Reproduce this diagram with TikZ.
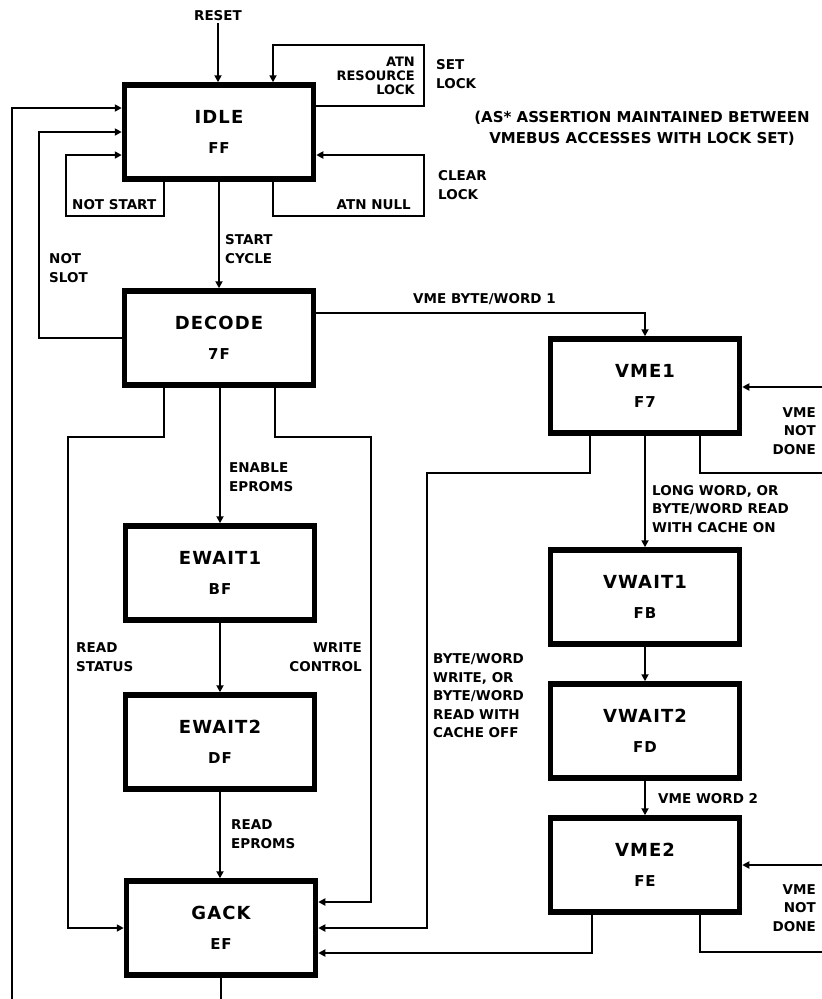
\documentclass[tikz,border=0pt]{standalone}
\usepackage{fontspec}
\setmainfont{DejaVu Sans}
\usetikzlibrary{arrows.meta}
\newcommand\ttlfont{\fontsize{18}{30}\selectfont\bfseries\addfontfeatures{LetterSpace=6}}
\begin{document}
\begin{tikzpicture}[x=1pt,y=-1pt,
  state/.style={draw, line width=5.5pt, minimum width=189pt, minimum height=94pt, inner sep=0pt, align=center,
    font=\fontsize{15}{30}\selectfont\bfseries\addfontfeatures{LetterSpace=6}},
  conn/.style={line width=1.8pt},
  arr/.style={conn, -{Triangle[length=7pt,width=7pt]}},
  lbl/.style={font=\fontsize{13.5}{18.5}\selectfont\bfseries, inner sep=0pt, align=left},
  lblr/.style={lbl, align=right}]
\useasboundingbox (0,0) rectangle (822,999);

% states
\node[state] (idle)   at (219,132) {{\ttlfont IDLE}\\FF};
\node[state] (decode) at (219,338) {{\ttlfont DECODE}\\7F};
\node[state] (ew1)    at (220,573) {{\ttlfont EWAIT1}\\BF};
\node[state] (ew2)    at (220,742) {{\ttlfont EWAIT2}\\DF};
\node[state] (gack)   at (221,928) {{\ttlfont GACK}\\EF};
\node[state] (vme1)   at (645,386) {{\ttlfont VME1}\\F7};
\node[state] (vw1)    at (645,597) {{\ttlfont VWAIT1}\\FB};
\node[state] (vw2)    at (645,731) {{\ttlfont VWAIT2}\\FD};
\node[state] (vme2)   at (645,865) {{\ttlfont VME2}\\FE};

% free ends
\coordinate (outL) at (12,999);
\coordinate (outG) at (221,999);
\coordinate (in1) at (822,387);
\coordinate (out1) at (822,473);
\coordinate (in2) at (822,865);
\coordinate (out2) at (822,952);

% labels
\node[lbl, inner sep=2pt] (reset) at (218,16) {RESET};
\node[lblr, anchor=east, font=\fontsize{13}{14}\selectfont\bfseries] (atnres) at (415,76) {ATN\\RESOURCE\\LOCK};
\node[lbl, anchor=west] (setlock) at (436,74) {SET\\LOCK};
\node[lbl, align=center, font=\fontsize{15}{21}\selectfont\bfseries] (note) at (642,128) {(AS* ASSERTION MAINTAINED BETWEEN\\VMEBUS ACCESSES WITH LOCK SET)};
\node[lbl, anchor=west] (clrlock) at (438,185) {CLEAR\\LOCK};
\node[lbl, anchor=east] (atnnull) at (411,205) {ATN NULL};
\node[lbl, anchor=west] (notstart) at (72,205) {NOT START};
\node[lbl, anchor=west] (startcyc) at (225,249) {START\\CYCLE};
\node[lbl, anchor=west] (notslot) at (49,268) {NOT\\SLOT};
\node[lbl, anchor=west] (vmebw) at (413,299) {VME BYTE/WORD 1};
\node[lbl, anchor=west] (enable) at (229,477) {ENABLE\\EPROMS};
\node[lbl, anchor=west] (rdstat) at (76,657) {READ\\STATUS};
\node[lblr, anchor=east] (wrctl) at (362,657) {WRITE\\CONTROL};
\node[lbl, anchor=west] (rdeprom) at (231,834) {READ\\EPROMS};
\node[lbl, anchor=west] (longw) at (652,509) {LONG WORD, OR\\BYTE/WORD READ\\WITH CACHE ON};
\node[lblr, anchor=east] (nd1) at (816,431) {VME\\NOT\\DONE};
\node[lbl, anchor=west] (bwwr) at (433,696) {BYTE/WORD\\WRITE, OR\\BYTE/WORD\\READ WITH\\CACHE OFF};
\node[lbl, anchor=west] (vmew2) at (658,799) {VME WORD 2};
\node[lblr, anchor=east] (nd2) at (816,908) {VME\\NOT\\DONE};

% connectors
\draw[arr] (reset.south) -- (reset.south |- idle.north);
\draw[arr] (idle.east |- 0,106) -| (424,45) -| (273,0 |- idle.north);
\draw[arr] (273,0 |- idle.south) |- (424,216) |- (idle.east |- 0,155);
\draw[arr] (164,0 |- idle.south) |- (66,216) |- (idle.west |- 0,155);
\draw[arr] (idle.south) -- (decode.north);
\draw[arr] (decode.west) -| (39,132) -- (idle.west |- 0,132);
\draw[arr] (outL) -- (12,108) -- (idle.west |- 0,108);
\draw[conn] (gack.south) -- (outG);
\draw[arr] (decode.east |- 0,313) -| (vme1.north);
\draw[arr] (ew1.north |- decode.south) -- (ew1.north);
\draw[arr] (164,0 |- decode.south) |- (68,437) |- (gack.west);
\draw[arr] (275,0 |- decode.south) |- (371,437) |- (gack.east |- 0,902);
\draw[arr] (ew1.south) -- (ew2.north);
\draw[arr] (ew2.south) -- (ew2.south |- gack.north);
\draw[arr] (590,0 |- vme1.south) |- (427,473) |- (gack.east);
\draw[conn] (700,0 |- vme1.south) |- (out1);
\draw[arr] (in1) -- (vme1.east |- in1);
\draw[arr] (vme1.south) -- (vw1.north);
\draw[arr] (vw1.south) -- (vw2.north);
\draw[arr] (vw2.south) -- (vme2.north);
\draw[arr] (592,0 |- vme2.south) |- (gack.east |- 0,953);
\draw[conn] (700,0 |- vme2.south) |- (out2);
\draw[arr] (in2) -- (vme2.east);
\end{tikzpicture}
\end{document}
